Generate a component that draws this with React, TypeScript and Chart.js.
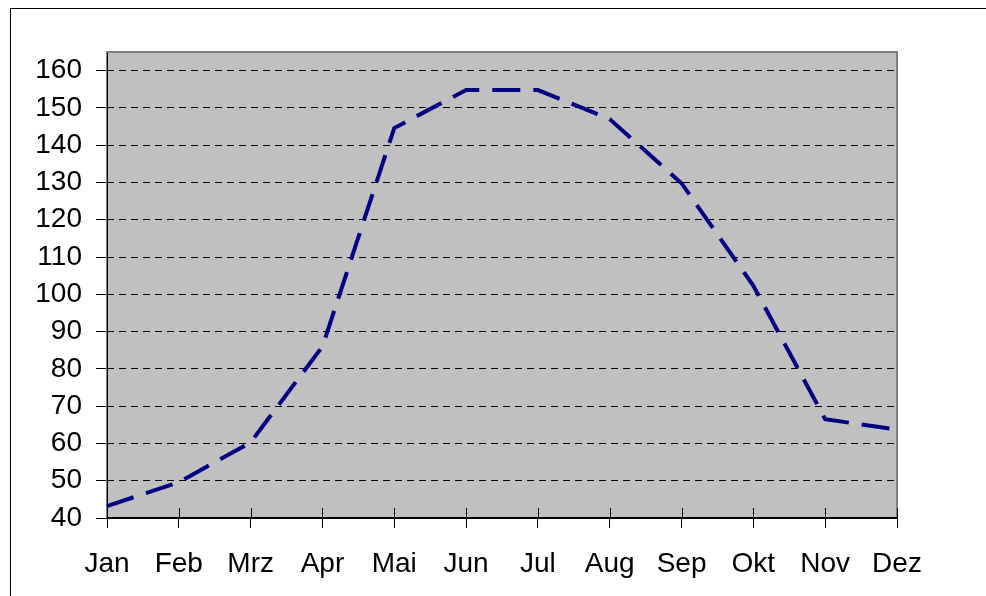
import React, { useEffect, useRef } from "react";
import { Chart, registerables } from "chart.js";

Chart.register(...registerables);

const months = ["Jan", "Feb", "Mrz", "Apr", "Mai", "Jun", "Jul", "Aug", "Sep", "Okt", "Nov", "Dez"];
const values = [43.2, 49.6, 60.3, 86, 144.6, 154.8, 154.8, 147, 129.8, 102.3, 66.5, 63.7];
const yMin = 40;
const yMax = 165;
const yStep = 10;

const plotFrame = {
  id: "plotFrame",
  beforeDraw(chart: any) {
    const { ctx, chartArea } = chart;
    ctx.save();
    ctx.fillStyle = "#C0C0C0";
    ctx.fillRect(chartArea.left, chartArea.top, chartArea.right - chartArea.left, chartArea.bottom - chartArea.top);
    ctx.restore();
  },
  beforeDatasetsDraw(chart: any) {
    const { ctx, chartArea, scales } = chart;
    const { left, right, top, bottom } = chartArea;
    ctx.save();
    ctx.strokeStyle = "#808080";
    ctx.lineWidth = 2;
    ctx.beginPath();
    ctx.moveTo(left, bottom);
    ctx.lineTo(left, top);
    ctx.lineTo(right, top);
    ctx.lineTo(right, bottom);
    ctx.stroke();
    ctx.strokeStyle = "#000";
    ctx.lineWidth = 1;
    ctx.beginPath();
    ctx.moveTo(left + 0.5, top + 1);
    ctx.lineTo(left + 0.5, bottom);
    ctx.stroke();
    ctx.lineWidth = 2;
    ctx.beginPath();
    ctx.moveTo(left, bottom);
    ctx.lineTo(right, bottom);
    ctx.stroke();
    ctx.lineWidth = 1;
    const xs = scales.x;
    ctx.beginPath();
    for (let i = 0; i < months.length; i++) {
      const px = Math.round(xs.getPixelForTick(i)) + 0.5;
      ctx.moveTo(px, bottom - 10);
      ctx.lineTo(px, bottom);
    }
    ctx.stroke();
    ctx.restore();
  },
};

export default function App() {
  const ref = useRef<HTMLCanvasElement>(null);
  useEffect(() => {
    if (!ref.current) return;
    const font = { family: "'Liberation Sans', Arial, sans-serif", size: 28 };
    const chart = new Chart(ref.current, {
      type: "line",
      data: {
        labels: months,
        datasets: [
          {
            data: values,
            borderColor: "#000080",
            borderWidth: 4,
            borderDash: [28, 13],
            pointRadius: 0,
            fill: false,
            tension: 0,
          },
        ],
      },
      options: {
        animation: false,
        responsive: false,
        maintainAspectRatio: false,
        layout: { padding: { left: 0, right: 89, top: 52, bottom: 0 } },
        plugins: { legend: { display: false }, tooltip: { enabled: false } },
        scales: {
          x: {
            offset: false,
            grid: {
              drawOnChartArea: false,
              drawTicks: true,
              tickLength: 10,
              color: "#000",
              lineWidth: 1,
            },
            border: { display: false },
            ticks: { color: "#000", font, padding: 19, maxRotation: 0, autoSkip: false },
            afterFit(scale: any) {
              scale.height = 78;
            },
          },
          y: {
            min: yMin,
            max: yMax,
            grid: {
              color: "#000",
              lineWidth: 1,
              tickLength: 11,
              tickColor: "#000",
              tickBorderDash: [],
            },
            border: { display: false, dash: [7, 5] },
            ticks: { stepSize: yStep, includeBounds: false, color: "#000", font, padding: 14 },
            afterFit(scale: any) {
              scale.width = 107;
            },
          },
        },
      },
      plugins: [plotFrame],
    });
    return () => chart.destroy();
  }, []);
  return (
    <div style={{ position: "fixed", left: 0, top: 0, width: 986, height: 596, overflow: "hidden", background: "#fff" }}>
      <div style={{ position: "absolute", left: 10, top: 8, width: 1200, height: 900, border: "1px solid #000" }} />
      <canvas ref={ref} width={986} height={596} style={{ position: "absolute", left: 0, top: 0, width: 986, height: 596 }} />
    </div>
  );
}
